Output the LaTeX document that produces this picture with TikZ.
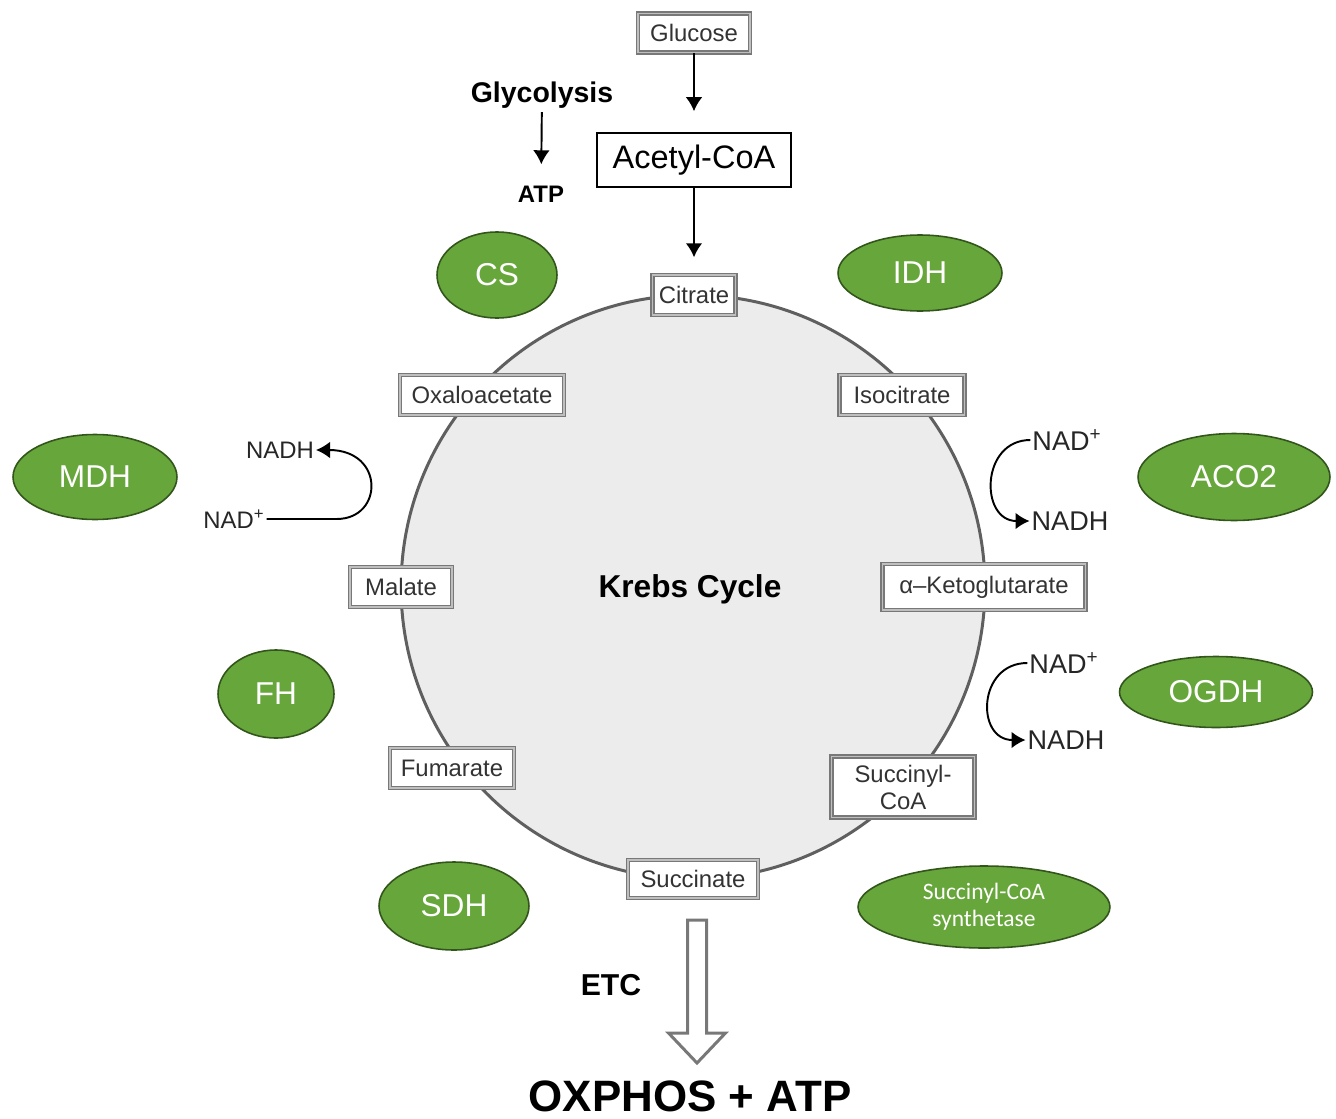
\documentclass[tikz,border=0pt]{standalone}
\usepackage{fontspec}
\setmainfont{Liberation Sans}
\newfontfamily\calibrifont{Carlito}
\usetikzlibrary{shapes.geometric, arrows.meta}
\definecolor{enzgreen}{RGB}{103,166,59}
\definecolor{enzdark}{RGB}{50,85,28}
\definecolor{boxgray}{RGB}{120,120,120}
\definecolor{cyclefill}{RGB}{236,236,236}
\definecolor{cycledraw}{RGB}{95,95,95}
\tikzset{>={Latex[length=8pt,width=9.5pt]},
  metab/.style={draw=boxgray, double=gray!50, double distance=0.8pt, line width=0.8pt,
    fill=white, text=black!80, font=\fontsize{13.6}{15.4}\selectfont,
    inner sep=0pt, minimum height=0.8cm},
  enzyme/.style={ellipse, draw=enzdark, line width=0.9pt, fill=enzgreen, text=white,
    font=\fontsize{18}{21}\selectfont, inner sep=0pt},
  cofac/.style={text=black!85, inner sep=1pt},
  flow/.style={->, line width=1.1pt}}

\begin{document}
\begin{tikzpicture}[x=0.02cm, y=-0.02cm]
\useasboundingbox (0,0) rectangle (1336,1119);
% Krebs cycle
\draw[cycledraw, line width=1.7pt, fill=cyclefill] (693,587) circle[radius=5.84cm];
\node[font=\bfseries\fontsize{18}{21}\selectfont] (krebs) at (690,589) {Krebs Cycle};

% metabolites
\node[metab, minimum width=2.24cm, minimum height=0.78cm] (glucose) at (694,33) {Glucose};
\node[draw, line width=0.9pt, fill=white, inner sep=0pt, minimum width=3.88cm, minimum height=1.08cm,
  font=\fontsize{18.5}{22}\selectfont] (acetyl) at (694,160) {Acetyl-CoA};
\node[metab, minimum width=1.66cm] (citrate) at (694,295) {Citrate};
\node[metab, minimum width=2.5cm] (isocitrate) at (902,395) {Isocitrate};
\node[metab, minimum width=4.06cm, minimum height=0.92cm] (akg) at (984,587) {α–Ketoglutarate};
\node[metab, minimum width=2.86cm, minimum height=1.22cm, align=center] (succoa) at (903,787) {Succinyl-\\CoA};
\node[metab, minimum width=2.6cm, minimum height=0.76cm] (succinate) at (693,879) {Succinate};
\node[metab, minimum width=2.48cm] (fumarate) at (452,768) {Fumarate};
\node[metab, minimum width=2.04cm] (malate) at (401,587) {Malate};
\node[metab, minimum width=3.28cm] (oxalo) at (482,395) {Oxaloacetate};

% enzymes
\node[enzyme, minimum width=2.4cm, minimum height=1.72cm] (cs) at (497,275) {CS};
\node[enzyme, minimum width=3.28cm, minimum height=1.52cm] (idh) at (920,273) {IDH};
\node[enzyme, minimum width=3.28cm, minimum height=1.7cm] (mdh) at (95,477) {MDH};
\node[enzyme, minimum width=3.84cm, minimum height=1.74cm] (aco) at (1234,477) {ACO2};
\node[enzyme, minimum width=2.32cm, minimum height=1.76cm] (fh) at (276,694) {FH};
\node[enzyme, minimum width=3.86cm, minimum height=1.42cm] (ogdh) at (1216,692) {OGDH};
\node[enzyme, minimum width=3cm, minimum height=1.76cm] (sdh) at (454,906) {SDH};
\node[enzyme, minimum width=5.04cm, minimum height=1.64cm, align=center,
  font=\calibrifont\fontsize{13.4}{15.4}\selectfont] (scs) at (984,907) {Succinyl-CoA\\synthetase};

% glucose input
\node[font=\bfseries\fontsize{16.2}{19}\selectfont, inner sep=2pt] (glyco) at (542,95) {Glycolysis};
\node[font=\bfseries\fontsize{13.6}{16}\selectfont, inner sep=2pt] (atp) at (541,194) {ATP};
\draw[flow, shorten >=10pt] (glyco) -- (atp);
\draw[flow, shorten >=0.42cm] (glucose) -- (acetyl);
\draw[flow, shorten >=0.34cm] (acetyl) -- (citrate);

% NAD+ / NADH
\node[cofac, font=\fontsize{15.4}{18}\selectfont] (nadpA) at (1067,440) {NAD\textsuperscript{+}};
\node[cofac, font=\fontsize{15.4}{18}\selectfont] (nadhA) at (1070,521) {NADH};
\draw[flow] (nadpA.west) .. controls +(-50,0) and +(-50,0) .. (nadhA.west);
\node[cofac, font=\fontsize{15.4}{18}\selectfont] (nadpB) at (1064,663) {NAD\textsuperscript{+}};
\node[cofac, font=\fontsize{15.4}{18}\selectfont] (nadhB) at (1066,740) {NADH};
\draw[flow] (nadpB.west) .. controls +(-50,0) and +(-50,0) .. (nadhB.west);
\node[cofac, font=\fontsize{13.6}{16}\selectfont] (nadhC) at (280,450) {NADH};
\node[cofac, font=\fontsize{13.6}{16}\selectfont] (nadpC) at (234,519) {NAD\textsuperscript{+}};
\draw[flow] (nadpC.east) -- ++(70,0) .. controls +(47,0) and +(69,0) .. (nadhC.east);

% electron transport chain
\coordinate (etctop) at (697,920);
\draw[boxgray, line width=1.7pt, fill=white, line join=miter] (etctop) ++(-9.5,0) -- ++(19,0) -- ++(0,113)
  -- ++(19,0) -- ++(-28.5,30) -- ++(-28.5,-30) -- ++(19,0) -- cycle;
\node[font=\bfseries\fontsize{17.2}{20}\selectfont] (etc) at (611,985) {ETC};
\node[font=\bfseries\fontsize{25}{30}\selectfont, inner sep=0pt] (oxphos) at (690,1096) {OXPHOS + ATP};
\end{tikzpicture}
\end{document}
